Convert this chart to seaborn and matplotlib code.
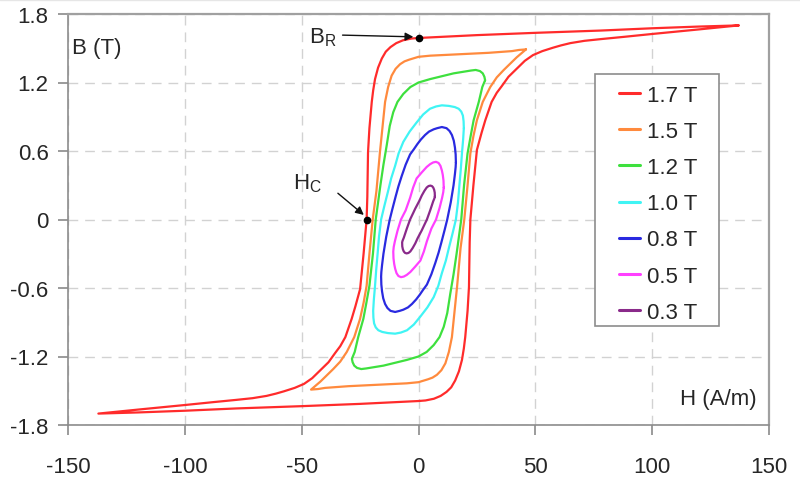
import matplotlib
matplotlib.use("Agg")
import matplotlib.pyplot as plt
import seaborn as sns
import pandas as pd
from matplotlib.patches import Rectangle
from matplotlib.lines import Line2D

# ---------------- data ----------------
loop_labels = ["1.7 T", "1.5 T", "1.2 T", "1.0 T", "0.8 T", "0.5 T", "0.3 T"]
loop_colors = ["#ff2b2b", "#ff8a3d", "#3ee03e", "#40f4f4", "#2a2ae0", "#ff40ff", "#8a2a8a"]

# 1.7 T : upper (decreasing H) branch, then lower (increasing H) branch
red_up_H = [137, 120, 100, 78, 50, 25, 10, 0, -3, -6.6, -9.5, -12, -14, -15.7, -17.3, -18.6, -19.4, -20, -21, -21.6, -21.9, -22.2,
            -23.5, -25, -27, -28.6, -31.3, -33.5, -35.7, -38.5, -42, -45.5, -49, -53, -57.6, -61, -65, -71, -78, -88, -100, -120, -137]
red_up_B = [1.70, 1.69, 1.675, 1.655, 1.635, 1.615, 1.60, 1.59, 1.585, 1.57, 1.545, 1.51, 1.47, 1.41, 1.33, 1.23, 1.13, 1.03, 0.80, 0.59, 0.2, 0.0,
            -0.3, -0.61, -0.76, -0.87, -1.03, -1.11, -1.17, -1.25, -1.32, -1.39, -1.44, -1.475, -1.505, -1.525, -1.545, -1.565, -1.58, -1.60, -1.625, -1.665, -1.70]
red_dn_H = [-137, -120, -100, -78, -50, -25, -10, 0, 3, 6.6, 9.5, 12, 14, 15.7, 17.3, 18.6, 19.4, 20, 21, 21.6, 21.9, 22.2,
            23.5, 25, 27, 28.6, 31.3, 33.5, 35.7, 38.5, 42, 45.5, 49, 53, 57.6, 61, 65, 71, 78, 88, 100, 120, 137]
red_dn_B = [-1.70, -1.69, -1.675, -1.655, -1.635, -1.615, -1.60, -1.59, -1.585, -1.57, -1.545, -1.51, -1.47, -1.41, -1.33, -1.23, -1.13, -1.03, -0.80, -0.59, -0.2, 0.0,
            0.3, 0.61, 0.76, 0.87, 1.03, 1.11, 1.17, 1.25, 1.32, 1.39, 1.44, 1.475, 1.505, 1.525, 1.545, 1.565, 1.58, 1.60, 1.625, 1.665, 1.70]

# 1.5 T
org_up_H = [46, 43, 40, 30, 20, 10, 5, 0, -4, -6, -7.9, -9.8, -11.5, -13, -14.3, -16.5, -18, -19.6, -21, -22.2, -23.5,
            -25, -27.5, -30.7, -33.5, -36.5, -39.5, -42, -46]
org_up_B = [1.49, 1.485, 1.475, 1.46, 1.45, 1.44, 1.435, 1.425, 1.40, 1.385, 1.36, 1.32, 1.26, 1.16, 1.03, 0.59, 0.25, 0.0, -0.3, -0.58, -0.73,
            -0.87, -1.03, -1.16, -1.245, -1.31, -1.37, -1.42, -1.49]
org_dn_H = [-46, -43, -40, -30, -20, -10, -5, 0, 4, 6, 7.9, 9.8, 11.5, 13, 14.3, 16.5, 18, 19.6, 21, 22.2, 23.5,
            25, 27.5, 30.7, 33.5, 36.5, 39.5, 42, 46]
org_dn_B = [-1.49, -1.485, -1.475, -1.46, -1.45, -1.44, -1.435, -1.425, -1.40, -1.385, -1.36, -1.32, -1.26, -1.16, -1.03, -0.59, -0.25, 0.0, 0.3, 0.58, 0.73,
            0.87, 1.03, 1.16, 1.245, 1.31, 1.37, 1.42, 1.49]

# 1.2 T
grn_up_H = [28.5, 28.2, 27.5, 26.3, 24.5, 22.5, 15, 5, 0, -3.5, -6.5, -9, -10.8, -12.3, -13.6, -15, -16.3, -18.3, -19.5,
            -21, -22.4, -23.6, -25.8, -27.3, -28.1, -28.5]
grn_up_B = [1.22, 1.25, 1.28, 1.30, 1.31, 1.305, 1.28, 1.23, 1.20, 1.16, 1.10, 1.03, 0.94, 0.82, 0.65, 0.48, 0.30, 0.0, -0.3,
            -0.58, -0.74, -0.87, -1.03, -1.16, -1.20, -1.22]
grn_dn_H = [-28.5, -28.2, -27.5, -26.3, -24.5, -22.5, -15, -5, 0, 3.5, 6.5, 9, 10.8, 12.3, 13.6, 15, 16.3, 18.3, 19.5,
            21, 22.4, 23.6, 25.8, 27.3, 28.1, 28.5]
grn_dn_B = [-1.22, -1.25, -1.28, -1.30, -1.31, -1.305, -1.28, -1.23, -1.20, -1.16, -1.10, -1.03, -0.94, -0.82, -0.65, -0.48, -0.30, 0.0, 0.3,
            0.58, 0.74, 0.87, 1.03, 1.16, 1.20, 1.22]

# 1.0 T
cyn_up_H = [19.4, 19.3, 19.0, 18.3, 17.2, 15.5, 13, 10, 7.5, 4.9, 2, -0.8, -3.8, -6.5, -8.5, -10, -11.7, -13, -14.6, -16,
            -16.9, -17.5, -18.1, -18.6, -19.1, -19.4]
cyn_up_B = [0.80, 0.86, 0.91, 0.945, 0.97, 0.985, 0.995, 1.0, 0.99, 0.97, 0.92, 0.85, 0.77, 0.68, 0.58, 0.47, 0.36, 0.25, 0.12, 0.0,
            -0.15, -0.3, -0.44, -0.58, -0.70, -0.80]
cyn_dn_H = [-19.4, -19.3, -19.0, -18.3, -17.2, -15.5, -13, -10, -7.5, -4.9, -2, 0.8, 3.8, 6.5, 8.5, 10, 11.7, 13, 14.6, 16,
            16.9, 17.5, 18.1, 18.6, 19.1, 19.4]
cyn_dn_B = [-0.80, -0.86, -0.91, -0.945, -0.97, -0.985, -0.995, -1.0, -0.99, -0.97, -0.92, -0.85, -0.77, -0.68, -0.58, -0.47, -0.36, -0.25, -0.12, 0.0,
            0.15, 0.3, 0.44, 0.58, 0.70, 0.80]

# 0.8 T
blu_up_H = [16, 15.9, 15.6, 15.1, 14.3, 13.3, 12, 10, 8, 6.5, 4.5, 2.8, 1, -0.5, -2, -3.6, -5.5, -7.2, -8.6, -9.8, -11.2, -12.3,
            -13.8, -15, -15.6, -15.9, -16]
blu_up_B = [0.50, 0.57, 0.63, 0.69, 0.74, 0.775, 0.80, 0.81, 0.80, 0.79, 0.77, 0.74, 0.70, 0.66, 0.615, 0.57, 0.48, 0.38, 0.29, 0.2, 0.09, 0.0,
            -0.15, -0.3, -0.40, -0.46, -0.50]
blu_dn_H = [-16, -15.9, -15.6, -15.1, -14.3, -13.3, -12, -10, -8, -6.5, -4.5, -2.8, -1, 0.5, 2, 3.6, 5.5, 7.2, 8.6, 9.8, 11.2, 12.3,
            13.8, 15, 15.6, 15.9, 16]
blu_dn_B = [-0.50, -0.57, -0.63, -0.69, -0.74, -0.775, -0.80, -0.81, -0.80, -0.79, -0.77, -0.74, -0.70, -0.66, -0.615, -0.57, -0.48, -0.38, -0.29, -0.2, -0.09, 0.0,
            0.15, 0.3, 0.40, 0.46, 0.50]

# 0.5 T
mag_up_H = [10.8, 10.7, 10.4, 10, 9.4, 8.6, 7.5, 6.3, 5, 3.5, 1.5, -0.8, -2.3, -3.6, -5.5, -7.5, -9, -10.1, -10.6, -10.8]
mag_up_B = [0.28, 0.34, 0.39, 0.43, 0.47, 0.495, 0.505, 0.50, 0.485, 0.46, 0.415, 0.36, 0.28, 0.19, 0.08, 0.0, -0.1, -0.19, -0.24, -0.28]
mag_dn_H = [-10.8, -10.7, -10.4, -10, -9.4, -8.6, -7.5, -6.3, -5, -3.5, -1.5, 0.8, 2.3, 3.6, 5.5, 7.5, 9, 10.1, 10.6, 10.8]
mag_dn_B = [-0.28, -0.34, -0.39, -0.43, -0.47, -0.495, -0.505, -0.50, -0.485, -0.46, -0.415, -0.36, -0.28, -0.19, -0.08, 0.0, 0.1, 0.19, 0.24, 0.28]

# 0.3 T
pur_up_H = [7, 6.95, 6.7, 6.3, 5.8, 5.1, 4.3, 3.5, 2.5, 1.4, 0.4, -0.5, -1.4, -2.2, -3.6, -5, -6.3, -6.8, -7]
pur_up_B = [0.20, 0.235, 0.26, 0.28, 0.292, 0.297, 0.293, 0.28, 0.25, 0.21, 0.165, 0.13, 0.095, 0.06, 0.0, -0.08, -0.16, -0.185, -0.20]
pur_dn_H = [-7, -6.95, -6.7, -6.3, -5.8, -5.1, -4.3, -3.5, -2.5, -1.4, -0.4, 0.5, 1.4, 2.2, 3.6, 5, 6.3, 6.8, 7]
pur_dn_B = [-0.20, -0.235, -0.26, -0.28, -0.292, -0.297, -0.293, -0.28, -0.25, -0.21, -0.165, -0.13, -0.095, -0.06, 0.0, 0.08, 0.16, 0.185, 0.20]

x_ticks = [-150, -100, -50, 0, 50, 100, 150]
y_ticks = [-1.8, -1.2, -0.6, 0, 0.6, 1.2, 1.8]
y_tick_labels = ["-1.8", "-1.2", "-0.6", "0", "0.6", "1.2", "1.8"]

# annotated points
BR_point = (0, 1.59)
HC_point = (-22.2, 0.0)

# ---------------- build table ----------------
loops = [
    (red_up_H, red_up_B, red_dn_H, red_dn_B),
    (org_up_H, org_up_B, org_dn_H, org_dn_B),
    (grn_up_H, grn_up_B, grn_dn_H, grn_dn_B),
    (cyn_up_H, cyn_up_B, cyn_dn_H, cyn_dn_B),
    (blu_up_H, blu_up_B, blu_dn_H, blu_dn_B),
    (mag_up_H, mag_up_B, mag_dn_H, mag_dn_B),
    (pur_up_H, pur_up_B, pur_dn_H, pur_dn_B),
]
rows = []
for lab, (uh, ub, dh, db) in zip(loop_labels, loops):
    hs = list(uh) + list(dh)
    bs = list(ub) + list(db)
    for i, (h, b) in enumerate(zip(hs, bs)):
        rows.append({"H": h, "B": b, "loop": lab, "order": i})
df = pd.DataFrame(rows)

# ---------------- plot ----------------
sns.set_theme(style="white")
plt.rcParams["font.family"] = ["Liberation Sans", "DejaVu Sans"]
plt.rcParams["mathtext.fontset"] = "custom"
plt.rcParams["mathtext.rm"] = "Liberation Sans"

W, Hpx = 800, 481
fig = plt.figure(figsize=(W / 100, Hpx / 100), dpi=100)
ax_l, ax_r, ax_t, ax_b = 68, 769, 15, 426
ax = fig.add_axes([ax_l / W, 1 - ax_b / Hpx, (ax_r - ax_l) / W, (ax_b - ax_t) / Hpx])

def px2ax(x, y):
    return (x - ax_l) / (ax_r - ax_l), (ax_b - y) / (ax_b - ax_t)

sns.lineplot(data=df, x="H", y="B", hue="loop", hue_order=loop_labels,
             palette=loop_colors, estimator=None, sort=False, units="loop",
             linewidth=1.6, ax=ax, legend=True)

ax.set_xlim(-150, 150)
ax.set_ylim(-1.8, 1.8)
ax.set_xticks(x_ticks)
ax.set_yticks(y_ticks)
ax.set_xticklabels([str(t) for t in x_ticks])
ax.set_yticklabels(y_tick_labels)
ax.set_xlabel("")
ax.set_ylabel("")

FS = 16
txt_color = "#262626"
ax.tick_params(axis="both", which="major", direction="out", length=7, width=1.1,
               color="#808080", labelsize=FS, labelcolor=txt_color)
ax.tick_params(axis="x", pad=15)
ax.tick_params(axis="y", pad=7)
ax.tick_params(bottom=True, left=True)

for s in ax.spines.values():
    s.set_color("#8c8c8c")
    s.set_linewidth(1.2)
ax.spines["top"].set_color("#a0a0a0")
ax.spines["right"].set_color("#a0a0a0")
ax.spines["top"].set_linewidth(1.6)
ax.spines["right"].set_linewidth(1.6)

ax.grid(True, linestyle=(0, (7, 5)), color="#d2d2d2", linewidth=1.0)
ax.set_axisbelow(True)

# axis titles inside plot
ax.text(*px2ax(72, 49), "B (T)", transform=ax.transAxes, fontsize=FS, color=txt_color,
        ha="left", va="center")
ax.text(*px2ax(757, 399), "H (A/m)", transform=ax.transAxes, fontsize=FS, color=txt_color,
        ha="right", va="center")

# annotations
ax.plot([BR_point[0], HC_point[0]], [BR_point[1], HC_point[1]], "o",
        color="black", markersize=4.5, zorder=5)
ax.annotate("", xy=(BR_point[0] - 2.2, BR_point[1] + 0.01), xytext=(-32.5, 1.615),
            arrowprops=dict(arrowstyle="-|>", color="#111111", lw=1.0,
                            mutation_scale=12, shrinkA=0, shrinkB=0))
ax.text(*px2ax(309, 38), r"$\mathregular{B_R}$", transform=ax.transAxes, fontsize=FS,
        color=txt_color, ha="left", va="center")
ax.annotate("", xy=(-23.4, 0.04), xytext=(-34.5, 0.23),
            arrowprops=dict(arrowstyle="-|>", color="#111111", lw=1.0,
                            mutation_scale=12, shrinkA=0, shrinkB=0))
ax.text(*px2ax(293, 184), r"$\mathregular{H_C}$", transform=ax.transAxes, fontsize=FS,
        color=txt_color, ha="left", va="center")

# legend (frame drawn separately to match the reference padding)
handles, labels = ax.get_legend_handles_labels()
for h in handles:
    h.set_linewidth(2.2)
leg = ax.legend(handles, labels, loc="upper left",
                bbox_to_anchor=px2ax(619, 86),
                fontsize=FS, frameon=False, handlelength=0.95, handletextpad=0.32,
                labelspacing=0.68, borderpad=0, borderaxespad=0)
for t in leg.get_texts():
    t.set_color(txt_color)

x0, y0 = px2ax(595, 327)
x1, y1 = px2ax(719, 75)
ax.add_patch(Rectangle((x0, y0), x1 - x0, y1 - y0, transform=ax.transAxes,
                       facecolor="white", edgecolor="#8c8c8c", linewidth=1.2, zorder=4))
leg.set_zorder(6)

# faint border line at the top of the image
fig.add_artist(Line2D([0, 1], [1 - 1.0 / Hpx, 1 - 1.0 / Hpx], transform=fig.transFigure,
                      color="#e6e6e6", linewidth=1.0))

fig.savefig("out.png", dpi=100, facecolor="white")
